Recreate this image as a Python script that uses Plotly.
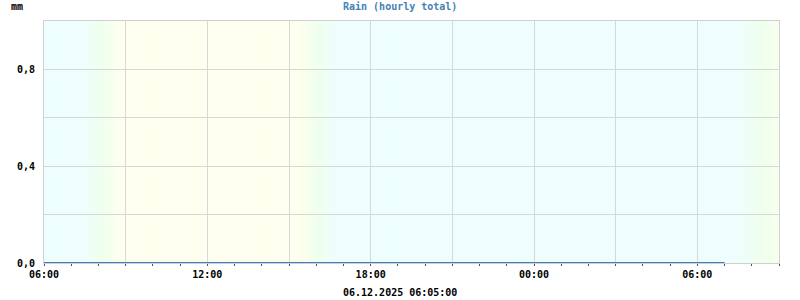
import plotly.graph_objects as go
import pandas as pd
import numpy as np

# ---- data ----
rain_times = pd.date_range("2025-12-05 06:00", "2025-12-06 07:00", freq="1h")
rain_mm = [0.0] * len(rain_times)

x_start = "2025-12-05 06:00"
x_end = "2025-12-06 09:00"
y_ticks = [0.0, 0.2, 0.4, 0.6, 0.8, 1.0]
y_labels = ["0,0", "", "0,4", "", "0,8", ""]
x_tick_times = pd.date_range(x_start, x_end, freq="3h")
x_tick_labels = [t.strftime("%H:%M") if t.hour % 6 == 0 else "" for t in x_tick_times]

# daylight background: (time, light level 0=night .. 1=day)
light_times = ["2025-12-05 06:00", "2025-12-05 07:20", "2025-12-05 08:50",
               "2025-12-05 15:20", "2025-12-05 16:50", "2025-12-06 07:20",
               "2025-12-06 09:00"]
light_level = [0.0, 0.0, 1.0, 1.0, 0.0, 0.0, 0.8]

title_text = "Rain (hourly total)"
unit_text = "mm"
stamp_text = "06.12.2025 06:05:00"

# ---- figure ----
FONT = "DejaVu Sans Mono"
NIGHT = np.array([0xEE, 0xFE, 0xFF])
MID = np.array([0xEE, 0xFF, 0xEE])
DAY = np.array([0xFE, 0xFF, 0xEE])


def light_color(v):
    if v <= 0.5:
        c = NIGHT + (MID - NIGHT) * (v / 0.5)
    else:
        c = MID + (DAY - MID) * ((v - 0.5) / 0.5)
    return "rgb(%d,%d,%d)" % tuple(np.round(c).astype(int))


bg_edges = pd.date_range(x_start, x_end, freq="5min")
lt = pd.to_datetime(light_times).astype("int64")
mids = (bg_edges[:-1].astype("int64") + bg_edges[1:].astype("int64")) / 2
bg_v = np.interp(mids, lt, light_level)

shapes = []
for i in range(len(bg_edges) - 1):
    shapes.append(dict(type="rect", xref="x", yref="paper",
                       x0=bg_edges[i], x1=bg_edges[i + 1] + pd.Timedelta("1min"),
                       y0=0, y1=1, line=dict(width=0),
                       fillcolor=light_color(bg_v[i]), layer="below"))

fig = go.Figure()
fig.add_trace(go.Scatter(
    x=rain_times, y=rain_mm, mode="lines",
    line=dict(color="#3C7FBF", width=2), cliponaxis=False,
))

fig.update_layout(
    width=800, height=300,
    margin=dict(l=44, r=21, t=21, b=37),
    paper_bgcolor="white", plot_bgcolor="white",
    showlegend=False, shapes=shapes,
    font=dict(family=FONT, size=10, color="black"),
)
fig.update_xaxes(
    range=[x_start, x_end], tickvals=x_tick_times, ticktext=x_tick_labels,
    showgrid=True, gridcolor="#D8D8D8", gridwidth=1,
    showline=True, linecolor="#D0D0D0", mirror=True,
    ticks="outside", ticklen=2, tickcolor="#555555",
    minor=dict(dtick=3600000, ticks="outside", ticklen=2, tickcolor="#555555", showgrid=False),
    tickfont=dict(family=FONT, size=10, color="black", weight="bold"),
    zeroline=False,
)
fig.update_yaxes(
    range=[0, 1], tickvals=y_ticks, ticktext=y_labels,
    showgrid=True, gridcolor="#D8D8D8", gridwidth=1,
    showline=True, linecolor="#D0D0D0", mirror=True,
    ticks="", ticklabelstandoff=6,
    tickfont=dict(family=FONT, size=10, color="black", weight="bold"),
    zeroline=False,
)
fig.add_annotation(text="<b>" + title_text + "</b>", xref="paper", yref="paper",
                   x=(400 - 44) / 735, y=1 + 15 / 242, xanchor="center", yanchor="middle",
                   showarrow=False, font=dict(family=FONT, size=10, color="#4682B4"))
fig.add_annotation(text="<b>" + unit_text + "</b>", xref="paper", yref="paper",
                   x=-35 / 735, y=1 + 15 / 242, xanchor="left", yanchor="middle",
                   showarrow=False, font=dict(family=FONT, size=10, color="black"))
fig.add_annotation(text="<b>" + stamp_text + "</b>", xref="paper", yref="paper",
                   x=(400 - 44) / 735, y=-29 / 242, xanchor="center", yanchor="middle",
                   showarrow=False, font=dict(family=FONT, size=10, color="black"))

fig.write_html("out.html")
